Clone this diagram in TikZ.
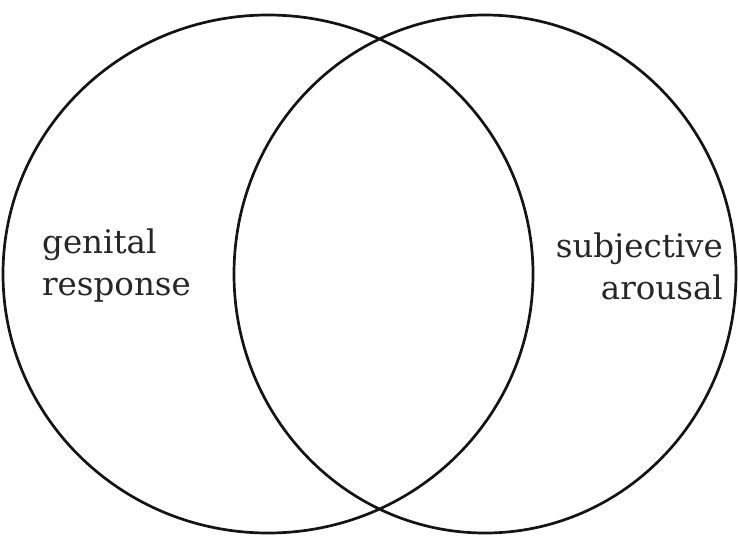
\documentclass[tikz,border=0pt]{standalone}
\usepackage{fontspec}
\setmainfont{DejaVu Serif}
\begin{document}
\begin{tikzpicture}[x=1pt,y=-1pt,
  setring/.style={draw=black!92,line width=2.7pt},
  lbl/.style={inner sep=0pt,font=\fontsize{32.5}{42}\selectfont,text=black!85}]
\useasboundingbox (0,0) rectangle (738,536);
\draw[setring] (268,274) ellipse [x radius=265,y radius=259];
\draw[setring] (485,274) ellipse [x radius=251,y radius=259];
\node[lbl,align=left,anchor=west] (gen) at (42,266) {genital\\response};
\node[lbl,align=right,anchor=east] (sub) at (723,266) {subjective\\arousal};
\end{tikzpicture}
\end{document}
